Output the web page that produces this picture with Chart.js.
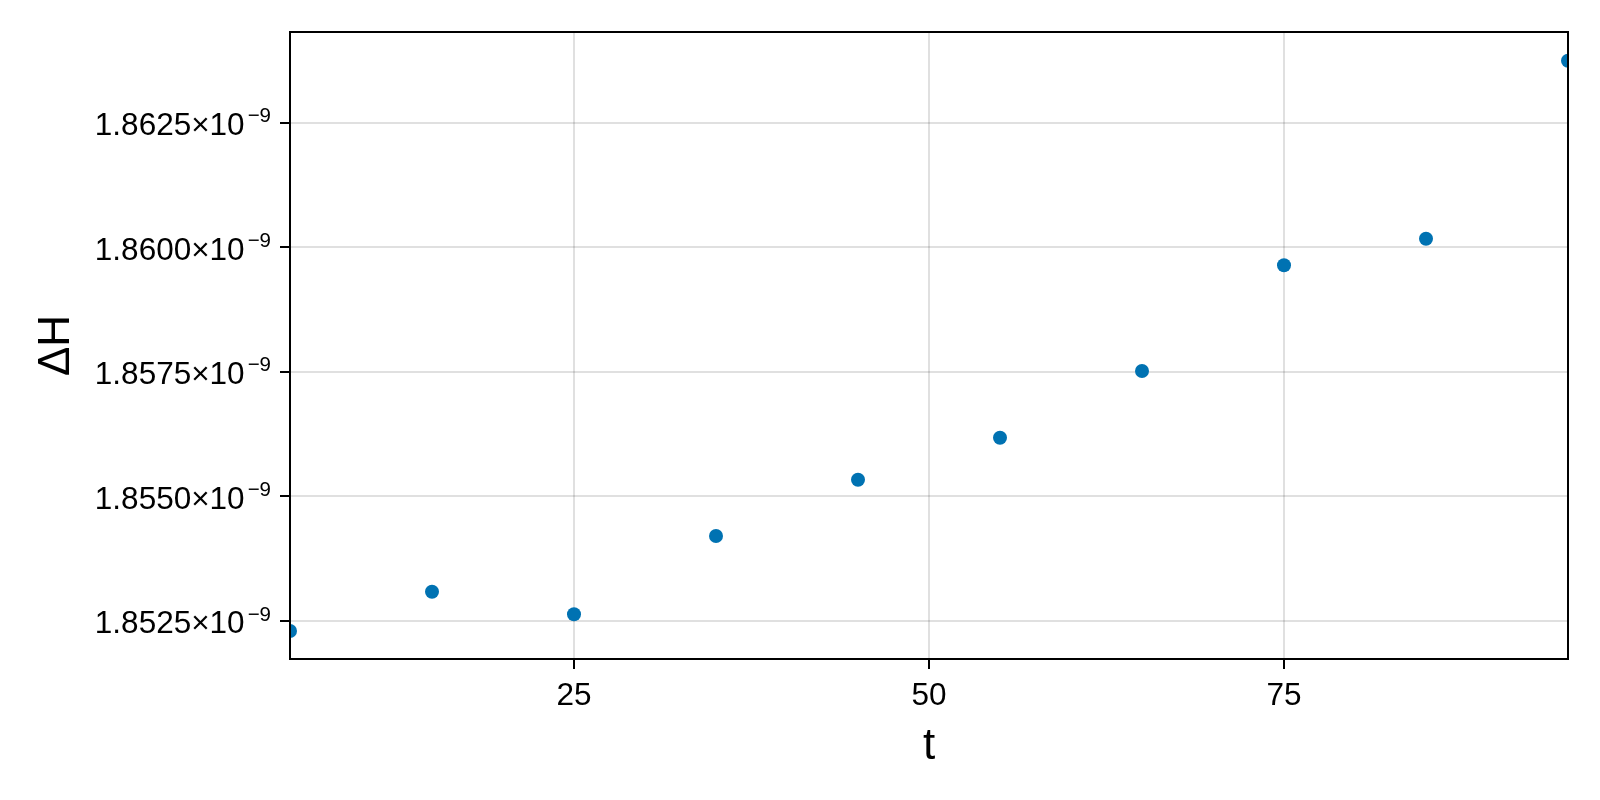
<!DOCTYPE html>
<html>
<head>
<meta charset="utf-8">
<script src="https://cdn.jsdelivr.net/npm/chart.js@4.4.1/dist/chart.umd.min.js"></script>
<style>
  html, body { margin: 0; padding: 0; background: #ffffff; }
  #wrap { width: 1600px; height: 800px; position: relative; }
</style>
</head>
<body>
<div id="wrap"><canvas id="c"></canvas></div>
<script>
// ---- data ----
const tValues = [5, 15, 25, 35, 45, 55, 65, 75, 85, 95];
const deltaH = [1.852293e-9, 1.853082e-9, 1.852629e-9, 1.854200e-9, 1.855331e-9,
                1.856175e-9, 1.857514e-9, 1.859637e-9, 1.860170e-9, 1.863745e-9];
const xTickValues = [25, 50, 75];
const yTickValues = [1.8525e-9, 1.8550e-9, 1.8575e-9, 1.8600e-9, 1.8625e-9];
const xLimits = [5, 95];
const yLimits = [1.851731e-9, 1.864321e-9];
const xLabel = 't';
const yLabel = 'ΔH';
const yExponentText = '−9';

const FONT = '"Liberation Sans", Arial, Helvetica, sans-serif';
const TICK_SIZE = 31.5;
const SUP_SIZE = 20.5;

const points = tValues.map((t, i) => ({ x: t, y: deltaH[i] }));

const framePlugin = {
  id: 'frameAndLabels',
  afterDraw(chart) {
    const ctx = chart.ctx;
    const a = chart.chartArea;
    ctx.save();
    ctx.strokeStyle = '#000000';
    ctx.lineWidth = 2;
    ctx.strokeRect(a.left, a.top, a.right - a.left, a.bottom - a.top);
    // y tick labels with superscript exponent
    const ys = chart.scales.y;
    ctx.fillStyle = '#000000';
    ctx.textBaseline = 'alphabetic';
    ctx.textAlign = 'left';
    const rightEdge = a.left - 19;
    ys.ticks.forEach(tk => {
      const py = ys.getPixelForValue(tk.value);
      const mant = (tk.value * 1e9).toFixed(4) + '×10';
      ctx.font = SUP_SIZE + 'px ' + FONT;
      const supW = ctx.measureText(yExponentText).width;
      ctx.font = TICK_SIZE + 'px ' + FONT;
      const mantW = ctx.measureText(mant).width;
      const supX = rightEdge - supW;
      const mantX = supX - 3 - mantW;
      ctx.fillText(mant, mantX, py + 12.7);
      ctx.font = SUP_SIZE + 'px ' + FONT;
      ctx.fillText(yExponentText, supX, py - 0.2);
    });
    ctx.restore();
  }
};

new Chart(document.getElementById('c'), {
  type: 'scatter',
  data: {
    datasets: [{
      data: points,
      backgroundColor: '#0072B2',
      borderWidth: 0,
      pointRadius: 7,
      pointHoverRadius: 7,
      clip: 0
    }]
  },
  options: {
    responsive: true,
    maintainAspectRatio: false,
    animation: false,
    events: [],
    layout: { padding: { top: 32, right: 32, left: 0, bottom: 0 } },
    plugins: { legend: { display: false }, tooltip: { enabled: false } },
    scales: {
      x: {
        type: 'linear',
        min: xLimits[0],
        max: xLimits[1],
        afterBuildTicks: s => { s.ticks = xTickValues.map(v => ({ value: v })); },
        afterFit: s => { s.height = 141; },
        grid: {
          color: 'rgba(0,0,0,0.12)',
          lineWidth: 2,
          tickColor: '#000000',
          tickWidth: 2,
          tickLength: 10,
          drawTicks: true
        },
        border: { display: false },
        ticks: {
          color: '#000000',
          font: { family: FONT, size: TICK_SIZE },
          padding: 8,
          maxRotation: 0,
          autoSkip: false,
          callback: v => String(v)
        },
        title: {
          display: true,
          text: xLabel,
          color: '#000000',
          font: { family: FONT, size: 44 },
          padding: { top: 0, bottom: 27 }
        }
      },
      y: {
        type: 'linear',
        min: yLimits[0],
        max: yLimits[1],
        afterBuildTicks: s => { s.ticks = yTickValues.map(v => ({ value: v })); },
        afterFit: s => { s.width = 290; },
        grid: {
          color: 'rgba(0,0,0,0.12)',
          lineWidth: 2,
          tickColor: '#000000',
          tickWidth: 2,
          tickLength: 10,
          drawTicks: true
        },
        border: { display: false },
        ticks: { display: false, autoSkip: false },
        title: {
          display: true,
          text: yLabel,
          color: '#000000',
          font: { family: FONT, size: 44 },
          padding: { top: 30, bottom: 0 }
        }
      }
    }
  },
  plugins: [framePlugin]
});
</script>
</body>
</html>
